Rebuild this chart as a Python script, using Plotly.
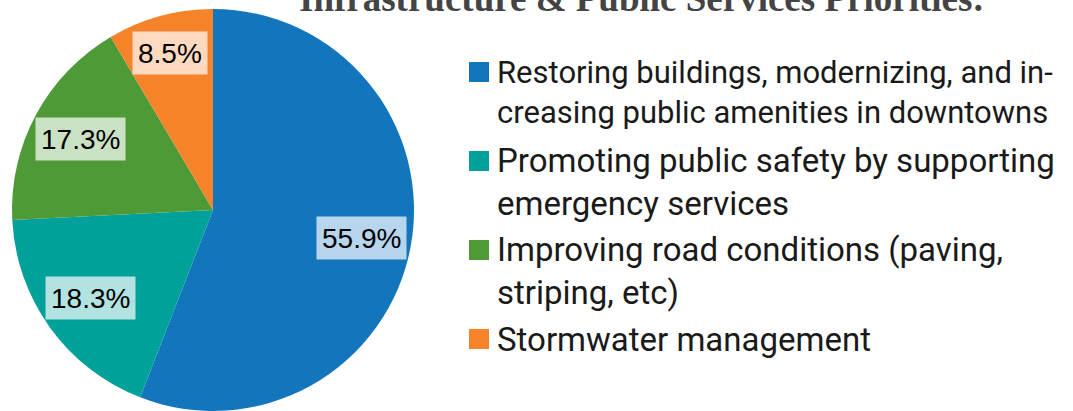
import math
import plotly.graph_objects as go

# ---- data ----
categories = [
    "Restoring buildings, modernizing, and in-<br>creasing public amenities in downtowns",
    "Promoting public safety by supporting<br>emergency services",
    "Improving road conditions (paving,<br>striping, etc)",
    "Stormwater management",
]
values = [55.9, 18.3, 17.3, 8.5]
value_labels = ["55.9%", "18.3%", "17.3%", "8.5%"]
title_text = "Infrastructure & Public Services Priorities:"

# ---- style ----
colors = ["#1375BC", "#00A19A", "#4D9A37", "#F5832A"]
label_bg = ["#B7D5EC", "#B2E3E1", "#CAE1C3", "#FDD9BF"]
legend_font_sizes = [31, 33, 33, 33]
label_fs = 28

W, H = 1073, 411
dom_x = [12 / W, 414 / W]
dom_y = [0.0, 402 / H]

fig = go.Figure(
    go.Pie(
        labels=[c.replace("<br>", " ") for c in categories],
        values=values,
        sort=False,
        direction="clockwise",
        rotation=0,
        marker=dict(colors=colors, line=dict(width=0)),
        textinfo="none",
        hoverinfo="label+percent",
        domain=dict(x=dom_x, y=dom_y),
        showlegend=False,
    )
)

# pie geometry in pixels (derived from domain)
cx = (dom_x[0] + dom_x[1]) / 2 * W
cy = (1 - (dom_y[0] + dom_y[1]) / 2) * H
r = min((dom_x[1] - dom_x[0]) * W, (dom_y[1] - dom_y[0]) * H) / 2

# approximate Arial advance widths (em) to size the label boxes
char_w = {c: 0.556 for c in "0123456789"}
char_w.update({".": 0.278, "%": 0.889})

annotations = []
shapes = []
total = sum(values)
cum = 0.0
for v, txt, bg in zip(values, value_labels, label_bg):
    frac_mid = (cum + v / 2) / total
    cum += v
    ang = 2 * math.pi * frac_mid  # clockwise from 12 o'clock
    rf = 0.75 if v / total > 0.1 else 0.81
    px = cx + rf * r * math.sin(ang)
    py = cy - rf * r * math.cos(ang)
    tw = sum(char_w.get(ch, 0.556) for ch in txt) * label_fs
    annotations.append(dict(
        x=px / W, y=1 - py / H, xref="paper", yref="paper",
        text=txt, showarrow=False, xanchor="center", yanchor="middle",
        font=dict(family="Liberation Sans", size=label_fs, color="#000000"),
        bgcolor=bg, borderpad=4, width=tw + 2, height=34,
    ))

# manual legend
leg_x0 = 469
leg_top = 62
pitch = 89
sq = 20
for i, (name, col, fs) in enumerate(zip(categories, colors, legend_font_sizes)):
    top = leg_top + i * pitch
    shapes.append(dict(
        type="rect", xref="paper", yref="paper",
        x0=leg_x0 / W, x1=(leg_x0 + sq) / W,
        y0=1 - (top + sq) / H, y1=1 - top / H,
        fillcolor=col, line=dict(width=0),
    ))
    nlines = name.count("<br>") + 1
    ycenter = top + sq / 2 + (nlines - 1) * fs * 1.3 / 2
    annotations.append(dict(
        x=(leg_x0 + sq + 6) / W, y=1 - ycenter / H, xref="paper", yref="paper",
        text=name, showarrow=False, xanchor="left", yanchor="middle", align="left",
        font=dict(family="Roboto", size=fs, color="#1a1a1a"),
    ))

# title (cut off at top as in reference)
annotations.append(dict(
    x=642 / W, y=1 - 21 / H, xref="paper", yref="paper",
    text="<b>" + title_text + "</b>", showarrow=False,
    xanchor="center", yanchor="bottom",
    font=dict(family="Liberation Serif", size=37, color="#444444"),
))

fig.update_layout(
    width=W, height=H,
    margin=dict(l=0, r=0, t=0, b=0),
    paper_bgcolor="white", plot_bgcolor="white",
    annotations=annotations, shapes=shapes,
)

fig.write_html(
    "out.html",
    config={"displayModeBar": False},
    post_script="document.body.style.margin='0';document.body.style.overflow='hidden';",
)
